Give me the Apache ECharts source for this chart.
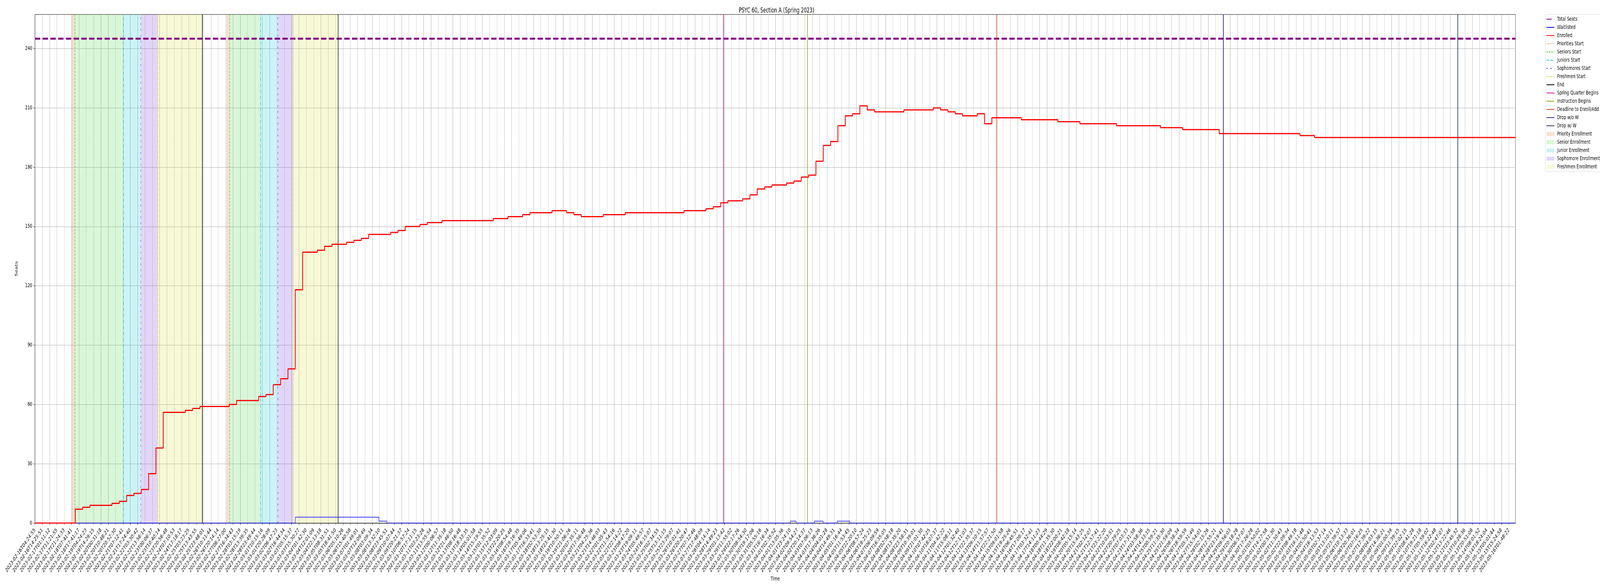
<!DOCTYPE html>
<html>
<head>
<meta charset="utf-8">
<title>PSYC 60, Section A (Spring 2023)</title>
<script src="https://cdn.jsdelivr.net/npm/echarts@6/dist/echarts.min.js"></script>
<style>
  html, body { margin: 0; padding: 0; background: #fff; overflow: hidden; }
  #chart { width: 6000px; height: 1500px; transform-origin: 0 0; }
</style>
</head>
<body>
<div id="chart"></div>
<script>
// x positions are measured in tick steps: tick i sits at x = i
var ticks = [
  '2023-02-16T04:24:55','2023-02-16T14:25:51','2023-02-17T01:11:12','2023-02-17T11:21:55','2023-02-17T21:24:33',
  '2023-02-18T07:41:41','2023-02-18T17:41:17','2023-02-19T04:24:23','2023-02-19T14:29:15','2023-02-20T00:31:18',
  '2023-02-20T10:48:21','2023-02-20T20:52:30','2023-02-21T07:12:41','2023-02-21T17:24:40','2023-02-22T03:30:42',
  '2023-02-22T13:56:14','2023-02-23T00:06:37','2023-02-23T10:40:14','2023-02-23T20:56:48','2023-02-24T07:10:53',
  '2023-02-24T17:18:17','2023-02-25T03:23:25','2023-02-25T13:43:55','2023-02-25T23:48:01','2023-02-26T10:11:44',
  '2023-02-26T20:14:14','2023-02-27T06:27:00','2023-02-27T16:34:43','2023-02-28T03:15:19','2023-02-28T13:39:35',
  '2023-02-28T23:49:44','2023-03-01T10:15:16','2023-03-01T20:28:09','2023-03-02T06:47:23','2023-03-02T16:44:34',
  '2023-03-03T05:15:37','2023-03-03T15:30:27','2023-03-04T01:42:30','2023-03-04T12:01:09','2023-03-04T22:13:18',
  '2023-03-05T08:31:51','2023-03-05T18:41:50','2023-03-06T05:10:26','2023-03-06T15:40:58','2023-03-07T01:49:01',
  '2023-03-07T12:09:49','2023-03-08T03:09:34','2023-03-08T13:32:10','2023-03-08T23:45:51','2023-03-09T10:07:44',
  '2023-03-09T20:21:37','2023-03-10T06:57:24','2023-03-10T17:11:15','2023-03-11T03:23:28','2023-03-11T13:55:54',
  '2023-03-12T00:06:57','2023-03-12T11:35:18','2023-03-12T21:46:50','2023-03-13T08:16:48','2023-03-13T18:33:35',
  '2023-03-14T05:01:58','2023-03-14T15:19:55','2023-03-15T01:35:52','2023-03-15T12:03:09','2023-03-15T22:20:25',
  '2023-03-16T08:54:48','2023-03-16T19:16:35','2023-03-17T05:49:06','2023-03-17T16:33:41','2023-03-18T02:53:30',
  '2023-03-18T13:25:15','2023-03-18T23:41:30','2023-03-19T10:50:11','2023-03-19T21:06:26','2023-03-20T07:35:11',
  '2023-03-20T17:56:48','2023-03-21T04:25:36','2023-03-21T14:46:03','2023-03-22T01:05:43','2023-03-22T11:54:16',
  '2023-03-22T22:14:22','2023-03-23T08:47:20','2023-03-23T19:09:11','2023-03-24T05:49:57','2023-03-24T16:15:07',
  '2023-03-25T02:34:55','2023-03-25T13:11:15','2023-03-25T23:29:07','2023-03-26T10:01:41','2023-03-26T20:20:47',
  '2023-03-27T07:12:46','2023-03-27T17:48:09','2023-03-28T04:14:14','2023-03-28T14:49:23','2023-03-29T01:13:42',
  '2023-03-29T11:55:02','2023-03-29T22:17:26','2023-03-30T08:54:30','2023-03-30T19:17:06','2023-03-31T05:55:16',
  '2023-03-31T16:16:34','2023-04-01T02:35:52','2023-04-01T13:05:36','2023-04-01T23:24:10','2023-04-02T09:54:27',
  '2023-04-02T20:14:37','2023-04-03T07:06:13','2023-04-03T17:36:26','2023-04-04T04:01:28','2023-04-04T14:49:31',
  '2023-04-05T01:16:44','2023-04-05T11:53:45','2023-04-05T22:20:10','2023-04-06T08:57:24','2023-04-06T19:25:23',
  '2023-04-07T06:09:59','2023-04-07T16:35:05','2023-04-08T02:58:18','2023-04-08T13:35:20','2023-04-08T23:58:31',
  '2023-04-09T10:39:01','2023-04-09T21:01:30','2023-04-10T07:42:25','2023-04-10T18:07:37','2023-04-11T04:42:22',
  '2023-04-11T15:08:11','2023-04-12T01:32:40','2023-04-12T12:11:03','2023-04-12T22:35:37','2023-04-13T09:10:15',
  '2023-04-14T11:57:57','2023-04-14T22:21:50','2023-04-15T09:01:58','2023-04-15T19:25:26','2023-04-16T06:45:51',
  '2023-04-16T17:09:17','2023-04-17T03:32:41','2023-04-17T14:11:23','2023-04-18T00:44:29','2023-04-18T11:35:30',
  '2023-04-18T22:00:21','2023-04-19T08:42:18','2023-04-20T05:15:14','2023-04-20T15:43:25','2023-04-21T02:12:07',
  '2023-04-21T12:57:41','2023-04-21T23:22:20','2023-04-22T10:03:51','2023-04-22T20:29:25','2023-04-23T07:03:33',
  '2023-04-23T17:31:58','2023-04-24T03:58:36','2023-04-24T14:33:15','2023-04-25T00:59:21','2023-04-25T11:35:30',
  '2023-04-25T21:59:09','2023-04-26T08:38:34','2023-04-26T18:59:59','2023-04-27T05:31:49','2023-04-27T15:54:01',
  '2023-04-28T02:15:26','2023-04-28T12:55:21','2023-04-28T23:19:41','2023-04-29T09:56:03','2023-04-29T20:18:28',
  '2023-04-30T06:57:07','2023-04-30T17:26:28','2023-05-01T03:50:02','2023-05-01T14:27:58','2023-05-02T00:51:30',
  '2023-05-02T11:30:43','2023-05-02T22:09:34','2023-05-03T08:49:18','2023-05-03T19:11:48','2023-05-04T05:50:41',
  '2023-05-04T16:13:53','2023-05-05T02:37:14','2023-05-05T13:10:11','2023-05-05T23:39:57','2023-05-06T10:13:33',
  '2023-05-06T20:36:01','2023-05-07T07:16:25','2023-05-07T17:39:22','2023-05-08T04:03:15','2023-05-08T14:36:21',
  '2023-05-09T01:00:39','2023-05-09T11:39:15','2023-05-09T22:02:15','2023-05-10T08:41:28','2023-05-10T19:21:18',
  '2023-05-11T05:59:02','2023-05-11T16:22:48','2023-05-12T02:47:07','2023-05-12T13:22:46','2023-05-12T23:45:32',
  '2023-05-13T10:28:36','2023-05-13T20:51:08','2023-05-14T08:01:52','2023-05-14T18:24:04','2023-05-15T05:01:44',
  '2023-05-15T15:24:58','2023-05-16T01:48:22'
];

// enrolled count read at each tick
var enrolled = [
  0, 0, 0, 0, 0, 0, 7, 8, 9, 9,
  9, 10, 11, 14, 15, 17, 25, 38, 56, 56,
  56, 57, 58, 59, 59, 59, 59, 60, 62, 62,
  62, 64, 65, 70, 73, 78, 118, 137, 137, 138,
  140, 141, 141, 142, 143, 144, 146, 146, 146, 147,
  148, 150, 150, 151, 152, 152, 153, 153, 153, 153,
  153, 153, 153, 154, 154, 155, 155, 156, 157, 157,
  157, 158, 158, 157, 156, 155, 155, 155, 156, 156,
  156, 157, 157, 157, 157, 157, 157, 157, 157, 158,
  158, 158, 159, 160, 162, 163, 163, 164, 166, 169,
  170, 171, 171, 172, 173, 175, 176, 183, 191, 193,
  201, 206, 207, 211, 209, 208, 208, 208, 208, 209,
  209, 209, 209, 210, 209, 208, 207, 206, 206, 207,
  202, 205, 205, 205, 205, 204, 204, 204, 204, 204,
  203, 203, 203, 202, 202, 202, 202, 202, 201, 201,
  201, 201, 201, 201, 200, 200, 200, 199, 199, 199,
  199, 199, 197, 197, 197, 197, 197, 197, 197, 197,
  197, 197, 197, 196, 196, 195, 195, 195, 195, 195,
  195, 195, 195, 195, 195, 195, 195, 195, 195, 195,
  195, 195, 195, 195, 195, 195, 195, 195, 195, 195,
  195, 195
];

// waitlist changes (position in tick steps, new count)
var waitAt  = [0, 35.5, 46.9, 48.0, 103.0, 103.8, 106.3, 107.5, 109.4, 111.1];
var waitVal = [0, 3, 1, 0, 1, 0, 1, 0, 1, 0];

var totalSeats = 245;
var xEnd = 201.9;
var yTop = 257.25;
var yTicks = [0, 30, 60, 90, 120, 150, 180, 210, 240];

// enrollment passes, in tick steps
var priorityStart  = [5.05, 26.15];
var seniorStart    = [5.44, 26.52];
var juniorStart    = [12.08, 30.77];
var sophomoreStart = [14.44, 33.11];
var freshmenStart  = [16.76, 35.24];
var passEnd        = [22.84, 41.34];
var quarterBegins     = [93.88];
var instructionBegins = [105.35];
var addDeadline       = [131.15];
var dropNoW           = [162.06];
var dropW             = [194.02];

var font = 'DejaVu Sans';

function vline(name, at, color, type, width) {
  return {
    name: name, type: 'line', data: [], symbol: 'none', z: 3,
    itemStyle: { color: color },
    lineStyle: { color: color, type: type, width: width },
    markLine: {
      silent: true, symbol: ['none', 'none'], label: { show: false },
      lineStyle: { color: color, type: type, width: width },
      emphasis: { disabled: true },
      data: at.map(function (v) { return { xAxis: v }; })
    }
  };
}

function band(name, from, to, color) {
  return {
    name: name, type: 'line', data: [], symbol: 'none', z: 1,
    itemStyle: { color: color },
    lineStyle: { width: 0 },
    markArea: {
      silent: true, itemStyle: { color: color },
      emphasis: { disabled: true },
      data: from.map(function (v, i) { return [{ xAxis: v }, { xAxis: to[i] }]; })
    }
  };
}

var tickIdx = ticks.map(function (t, i) { return i; });
var enrolledData = enrolled.map(function (v, i) { return [i, v]; });
enrolledData.push([xEnd, enrolled[enrolled.length - 1]]);
var waitData = waitAt.map(function (x, i) { return [x, waitVal[i]]; });
waitData.push([xEnd, waitVal[waitVal.length - 1]]);

var lineNames = ['Total Seats', 'Waitlisted', 'Enrolled', 'Priorities Start', 'Seniors Start',
  'Juniors Start', 'Sophomores Start', 'Freshmen Start', 'End', 'Spring Quarter Begins',
  'Instruction Begins', 'Deadline to Enroll/Add', 'Drop w/o W', 'Drop w/ W'];
var bandNames = ['Priority Enrollment', 'Senior Enrollment', 'Junior Enrollment',
  'Sophomore Enrollment', 'Freshmen Enrollment'];

var legendData = lineNames.map(function (n) {
  return { name: n, itemStyle: { opacity: 0 } };
}).concat(bandNames.map(function (n) {
  return { name: n, icon: 'rect' };
}));

// the chart is laid out at 6000 x 1500; squeeze it into the real window if it is smaller
var box = document.getElementById('chart');
var W = window.innerWidth || 6000;
var H = window.innerHeight || 1500;
box.style.transform = 'scale(' + (W / 6000) + ',' + (H / 1500) + ')';

var chart = echarts.init(box, null, { renderer: 'canvas', width: 6000, height: 1500 });

var option = {
  animation: false,
  backgroundColor: '#fff',
  textStyle: { fontFamily: font },
  title: {
    text: 'PSYC 60, Section A (Spring 2023)',
    left: 2907, top: 14, textAlign: 'center',
    textStyle: { fontFamily: font, fontSize: 17, fontWeight: 'normal', color: '#000' }
  },
  legend: {
    orient: 'vertical', left: 5795, top: 37,
    itemWidth: 30, itemHeight: 10, itemGap: 7,
    padding: [5, 8, 5, 3],
    borderColor: '#d5d5d5', borderWidth: 1, borderRadius: 3,
    textStyle: { fontFamily: font, fontSize: 14, color: '#000', padding: [0, 0, 0, 5] },
    data: legendData
  },
  grid: {
    left: 131, right: 317, top: 37, bottom: 161,
    show: true, borderColor: '#000', borderWidth: 1, backgroundColor: 'transparent'
  },
  xAxis: {
    type: 'value', min: 0, max: xEnd, interval: 1,
    name: 'Time', nameLocation: 'middle', nameGap: 130,
    nameTextStyle: { fontFamily: font, fontSize: 14, color: '#000' },
    axisLine: { show: true, onZero: false, lineStyle: { color: '#000', width: 1 } },
    axisTick: { show: true, length: 5, lineStyle: { color: '#000' }, customValues: tickIdx },
    axisLabel: {
      rotate: 45, fontFamily: font, fontSize: 14, color: '#000', margin: 16,
      customValues: tickIdx,
      formatter: function (v) { return Number.isInteger(v) && ticks[v] ? ticks[v] : ''; }
    },
    splitLine: { show: true, lineStyle: { color: '#b0b0b0', width: 1 } }
  },
  yAxis: {
    type: 'value', min: 0, max: yTop, interval: 30,
    name: 'Seats', nameLocation: 'middle', nameGap: 62,
    nameTextStyle: { fontFamily: font, fontSize: 14, color: '#000' },
    axisLine: { show: true, lineStyle: { color: '#000', width: 1 } },
    axisTick: { show: true, length: 5, lineStyle: { color: '#000' }, customValues: yTicks },
    axisLabel: { fontFamily: font, fontSize: 14, color: '#000', margin: 10, customValues: yTicks },
    splitLine: { show: true, lineStyle: { color: '#b0b0b0', width: 1 } }
  },
  series: [
    {
      name: 'Total Seats', type: 'line', symbol: 'none', z: 4,
      itemStyle: { color: '#800080' },
      lineStyle: { color: '#800080', width: 5, type: [20, 9] },
      data: [[0, totalSeats], [xEnd, totalSeats]]
    },
    {
      name: 'Waitlisted', type: 'line', symbol: 'none', step: 'end', z: 5,
      itemStyle: { color: '#0000ff' },
      lineStyle: { color: '#0000ff', width: 1.5 },
      data: waitData
    },
    {
      name: 'Enrolled', type: 'line', symbol: 'none', step: 'middle', z: 6,
      itemStyle: { color: '#ff0000' },
      lineStyle: { color: '#ff0000', width: 3 },
      data: enrolledData
    },
    vline('Priorities Start', priorityStart, '#e8703a', [2, 3], 1.5),
    vline('Seniors Start', seniorStart, '#3fcb22', [6, 3], 1.5),
    vline('Juniors Start', juniorStart, '#16c5d6', [9, 2.5, 1.5, 2.5], 1.5),
    vline('Sophomores Start', sophomoreStart, '#6530d8', [5, 10], 1.5),
    vline('Freshmen Start', freshmenStart, '#dada30', [7, 2.5, 1.5, 2.5], 1.5),
    vline('End', passEnd, '#000000', 'solid', 2),
    vline('Spring Quarter Begins', quarterBegins, '#e0149c', 'solid', 2),
    vline('Instruction Begins', instructionBegins, '#8bad1a', 'solid', 2),
    vline('Deadline to Enroll/Add', addDeadline, '#d2421c', 'solid', 2),
    vline('Drop w/o W', dropNoW, '#2e2a8c', 'solid', 2.5),
    vline('Drop w/ W', dropW, '#2c3a5c', 'solid', 2.5),
    band('Priority Enrollment', priorityStart, seniorStart, 'rgba(232,112,58,0.22)'),
    band('Senior Enrollment', seniorStart, juniorStart, 'rgba(60,205,50,0.19)'),
    band('Junior Enrollment', juniorStart, sophomoreStart, 'rgba(0,200,210,0.2)'),
    band('Sophomore Enrollment', sophomoreStart, freshmenStart, 'rgba(125,70,225,0.22)'),
    band('Freshmen Enrollment', freshmenStart, passEnd, 'rgba(215,222,50,0.2)')
  ]
};

chart.setOption(option);
</script>
</body>
</html>
